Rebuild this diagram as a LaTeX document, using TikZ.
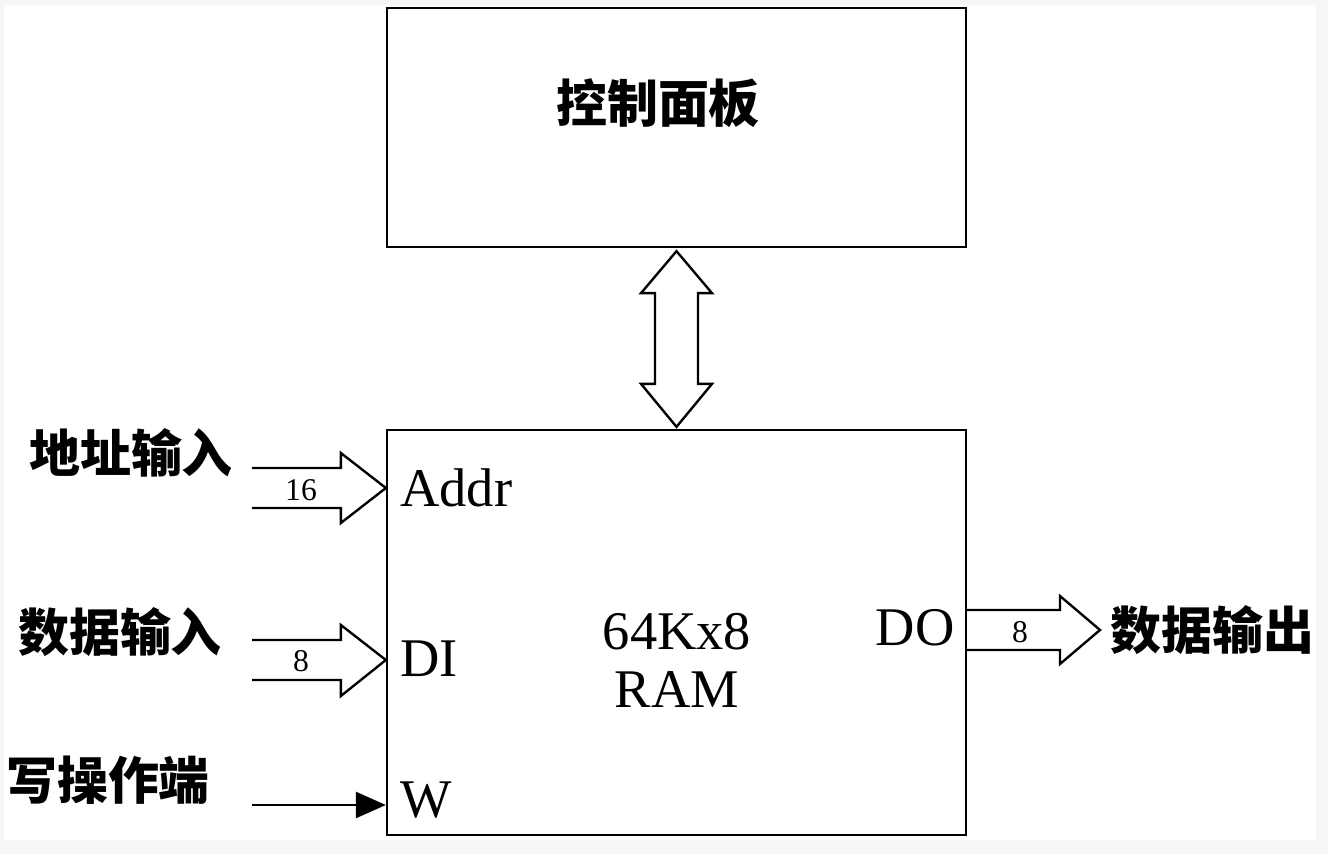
\documentclass[tikz,border=0pt]{standalone}
\usepackage{fontspec}
\setmainfont{Liberation Serif}
\newfontfamily\cjk{Noto Sans CJK SC}
\usetikzlibrary{arrows.meta, calc}
\definecolor{pagegray}{HTML}{F5F6F8}
\tikzstyle{box} = [rectangle, minimum width=11.58cm, inner sep=0pt, draw=black, line width=1.35pt, fill=white]
\tikzstyle{cn} = [inner sep=0pt, font=\cjk\bfseries\fontsize{29}{32}\selectfont]
\tikzstyle{pin} = [inner sep=0pt, font=\fontsize{31}{33}\selectfont]
\tikzstyle{buslabel} = [inner sep=0pt, font=\fontsize{18}{20}\selectfont]
\tikzstyle{bus} = [draw=black, line width=1.35pt, line join=miter, fill=white]
\tikzstyle{arrow} = [line width=1.35pt, -{Triangle[length=0.6cm, width=0.52cm]}]

\begin{document}
\begin{tikzpicture}[x=0.02cm, y=-0.02cm]

\useasboundingbox (0,0) rectangle (1328,854);
\fill [pagegray] (0,0) rectangle (1328,854);
\fill [white] (4,5) rectangle (1316,840);

\node (panel) [box, minimum height=4.78cm] at (676.5,127.5) {};
\node (paneltext) [cn] at (658,103) {控制面板};

\node (ram) [box, minimum height=8.1cm] at (676.5,632.5) {};
\node (ramtext) [pin, align=center] at (677,660) {64Kx8\\RAM};

\node (addr) [pin, anchor=west] at (400,488) {Addr};
\node (di) [pin, anchor=west] at (400,659) {DI};
\node (w) [pin, anchor=west] at (400,800) {W};
\node (do) [pin, anchor=east] at (955,628) {DO};

\node (addrname) [cn] at (131,453) {地址输入};
\node (diname) [cn] at (120,632) {数据输入};
\node (wname) [cn] at (108,780) {写操作端};
\node (doname) [cn, anchor=west] at (1110,630) {数据输出};

\coordinate (addrin) at (252,488);
\coordinate (addrtip) at (ram.west |- addrin);
\coordinate (diin) at (252,660);
\coordinate (ditip) at (ram.west |- diin);
\coordinate (win) at (252,805);
\coordinate (wtip) at (ram.west |- win);
\coordinate (doout) at (ram.east |- 0,630);
\coordinate (dotip) at (1100,630);

% bus into and out of the RAM
\draw [bus] ($(addrin)+(0,-20)$) -- ($(addrtip)+(-45,-20)$) -- ++(0,-15) -- (addrtip)
  -- ($(addrtip)+(-45,35)$) -- ++(0,-15) -- ($(addrin)+(0,20)$);
\draw [bus] ($(diin)+(0,-20)$) -- ($(ditip)+(-45,-20)$) -- ++(0,-15) -- (ditip)
  -- ($(ditip)+(-45,36)$) -- ++(0,-16) -- ($(diin)+(0,20)$);
\draw [bus] ($(doout)+(0,-20)$) -- ($(dotip)+(-40,-20)$) -- ++(0,-14) -- (dotip)
  -- ($(dotip)+(-40,34)$) -- ++(0,-14) -- ($(doout)+(0,20)$);

\node (addrwidth) [buslabel] at (301,490) {16};
\node (diwidth) [buslabel] at (301,661) {8};
\node (dowidth) [buslabel] at (1020,632) {8};

% panel <-> RAM
\coordinate (up) at ($(panel.south)+(0,3)$);
\coordinate (down) at ($(ram.north)+(0,-2)$);
\draw [bus] (up) -- ++(35.5,42) -- ++(-14,0) -- ($(down)+(21.5,-43)$) -- ++(14,0) -- (down)
  -- ++(-35.5,-43) -- ++(14,0) -- ($(up)+(-21.5,42)$) -- ++(-14,0) -- cycle;

\draw [arrow] (win) -- (wtip);

\end{tikzpicture}
\end{document}
